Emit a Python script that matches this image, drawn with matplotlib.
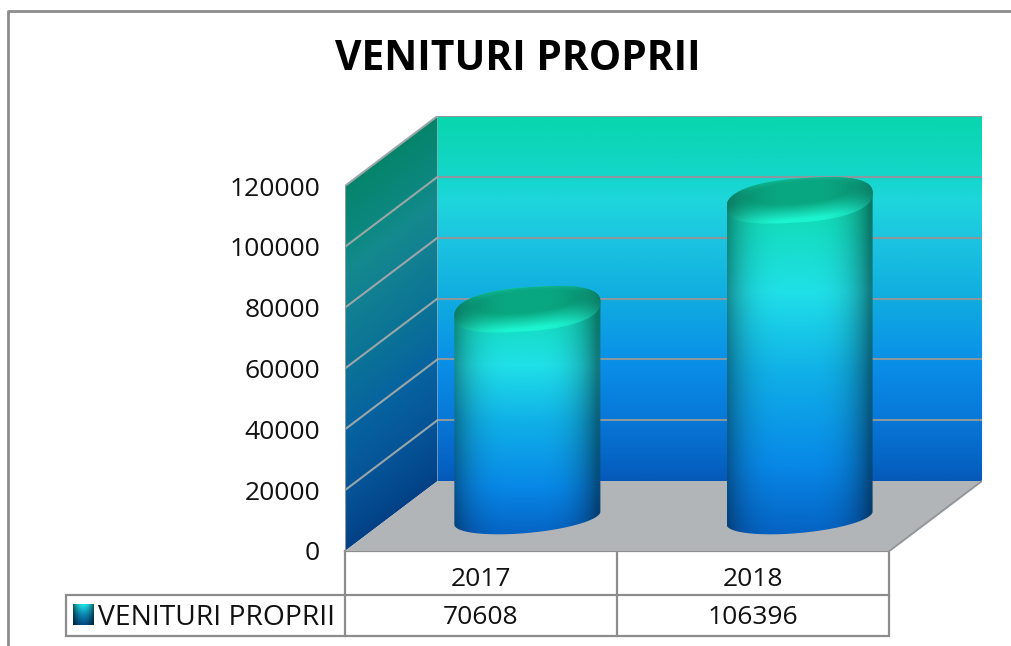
# -*- coding: utf-8 -*-
import numpy as np
import matplotlib
matplotlib.use("Agg")
import matplotlib.pyplot as plt
from matplotlib.path import Path
from matplotlib.colors import to_rgb

title = "VENITURI PROPRII"
series_name = "VENITURI PROPRII"
years = ["2017", "2018"]
values = [70608, 106396]
ticks = [0, 20000, 40000, 60000, 80000, 100000, 120000]

W, H = 1012, 646
FONT = "Open Sans"
EDGE = "#8c8c8c"

# size of one pixel in data units
UX = 1 / 272.0
UY = 120000 / 365.0
DEPTH_X = 92.5 * UX
DEPTH_Y = 70 * UY


def ramp(t, stops):
    pos = [s[0] for s in stops]
    cols = np.array([to_rgb(s[1]) for s in stops])
    return np.stack([np.interp(t, pos, cols[:, i]) for i in range(3)], axis=-1)


def spow(c, p=0.82):
    return np.sign(c) * np.abs(c) ** p


wall_stops = [(0, "#0558b8"), (0.03, "#0560c0"), (0.17, "#0878d8"), (0.33, "#0a90e8"),
              (0.5, "#10ace0"), (0.66, "#1cc4e0"), (0.77, "#1ed6dc"), (0.83, "#14d6cc"), (1, "#08d6ac")]
body_stops = [(0, "#10dcb0"), (0.1, "#10dcb4"), (0.33, "#20e0e8"), (0.55, "#10b0e8"),
              (0.8, "#0888e8"), (1, "#0560c0")]

fig = plt.figure(figsize=(W / 100, H / 100), dpi=100, facecolor="white")

# page layer in pixels: frame, title, table
bg = fig.add_axes([0, 0, 1, 1])
bg.set_xlim(0, W)
bg.set_ylim(H, 0)
bg.axis("off")
bg.plot([8.5, 8.5, W], [H, 10.5, 10.5], color=EDGE, lw=2)
bg.text(517.5, 59, title, family=FONT, weight="bold", fontsize=29.3, ha="center", va="center", color="black")

for xs, ys in [([345, 889, 889, 345, 345], [551, 551, 636, 636, 551]),
               ([345, 889], [595, 595]),
               ([617, 617], [551, 636]),
               ([345, 66, 66, 345], [595, 595, 636, 636])]:
    bg.plot(xs, ys, color=EDGE, lw=1.6, solid_joinstyle="miter")

bg.text(216.5, 618, series_name, family=FONT, fontsize=20.3, ha="center", va="center", color="#111111")
for i in range(len(years)):
    cx = 345 + 136 + 272 * i
    bg.text(cx, 579, years[i], family=FONT, fontsize=19, ha="center", va="center", color="#111111")
    bg.text(cx, 618, str(values[i]), family=FONT, fontsize=19, ha="center", va="center", color="#111111")

# legend key
ky, kx = np.mgrid[0:1:20j, 0:1:21j]
key = ramp(0.3 + 0.5 * ky, body_stops) * (0.45 + 0.55 * (1 - np.abs(2 * kx - 1) ** 2))[..., None] * (1 - 0.45 * ky)[..., None]
bg.imshow(key, extent=(73, 94, 625, 604), aspect="auto", zorder=2)
bg.set_xlim(0, W)
bg.set_ylim(H, 0)

# chart layer in data units
ax = fig.add_axes([345 / W, (H - 551) / H, (982 - 345) / W, 435 / H])
ax.patch.set_alpha(0)
for s in ax.spines.values():
    s.set_visible(False)
xlim = (0, 2 + DEPTH_X)
ylim = (0, 120000 + DEPTH_Y)


def paint(rgb, extent, verts, zorder):
    im = ax.imshow(rgb, extent=extent, origin="lower", aspect="auto", zorder=zorder, interpolation="bilinear")
    im.set_clip_path(Path(verts), ax.transData)


# back wall
gy = np.linspace(0, 1, 300)[:, None]
paint(ramp(gy[:, 0], wall_stops)[:, None, :],
      (DEPTH_X, 2 + DEPTH_X, DEPTH_Y, 120000 + DEPTH_Y),
      [(DEPTH_X, DEPTH_Y), (2 + DEPTH_X, DEPTH_Y), (2 + DEPTH_X, ylim[1]), (DEPTH_X, ylim[1])], 1)

# side wall
sy, sx = np.mgrid[0:ylim[1]:300j, 0:DEPTH_X:60j]
st = np.clip((sy - sx / DEPTH_X * DEPTH_Y) / 120000, 0, 1)
paint(ramp(st, wall_stops) * (0.72 - 0.1 * st)[..., None], (0, DEPTH_X, 0, ylim[1]),
      [(0, 0), (DEPTH_X, DEPTH_Y), (DEPTH_X, ylim[1]), (0, 120000)], 1)

# floor
ax.fill([0, 2, 2 + DEPTH_X, DEPTH_X], [0, 0, DEPTH_Y, DEPTH_Y], color="#b2b5b8", lw=0, zorder=1)
ax.plot([2, 2 + DEPTH_X], [0, DEPTH_Y], color="#8f9498", lw=1.3, zorder=2)

# grid
for v in ticks[1:]:
    ax.plot([DEPTH_X, 2 + DEPTH_X], [v + DEPTH_Y, v + DEPTH_Y], color="#8a979c", lw=1.5, zorder=2)
    ax.plot([0, DEPTH_X], [v, v + DEPTH_Y], color="#9aa6a8", lw=1.5, zorder=2)
ax.plot([0, 0], [0, 120000], color="#8a979c", lw=1.5, zorder=2)

# cylinders
rx = 73 * UX
tilt_top = 7 * UY
ry_top = 22 * UY
tilt_bot = 6.5 * UY
ry_bot = 15 * UY
base_y = (551 - 524) * UY
foot_y = (551 - 518) * UY

for i, v in enumerate(values):
    cx = i + 0.5 + 0.17
    top = base_y + v
    a1 = np.linspace(np.pi, 0, 80)
    a2 = np.linspace(0, -np.pi, 80)
    outline = list(zip(cx + rx * spow(np.cos(a1)), top + ry_top * spow(np.sin(a1)) + tilt_top * np.cos(a1))) + \
        list(zip(cx + rx * np.cos(a2), foot_y + ry_bot * np.sin(a2) + tilt_bot * np.cos(a2)))
    y0, y1 = foot_y - ry_bot - tilt_bot, top + ry_top + tilt_top
    by, bu = np.mgrid[0:1:300j, -1:1:150j]
    shade = 0.55 + 0.45 * (1 - np.abs(bu + 0.05) ** 3.5).clip(0, 1)
    paint(ramp(1 - by, body_stops) * shade[..., None], (cx - rx, cx + rx, y0, y1), outline, 3)

    # top cap
    a = np.linspace(0, 2 * np.pi, 160)
    cap = list(zip(cx + rx * spow(np.cos(a)), top + ry_top * spow(np.sin(a)) + tilt_top * np.cos(a)))
    cy0, cy1 = top - ry_top - tilt_top, top + ry_top + tilt_top
    yy, uu = np.mgrid[cy0:cy1:120j, -1:1:150j]
    vv = (yy - top - tilt_top * uu) / ry_top
    r = np.sqrt((uu / 0.9) ** 2 + ((vv - 0.35) / 0.7) ** 2)
    m = np.clip((r - 0.75) / 1.0, 0, 1)[..., None]
    rgb = np.array(to_rgb("#0aa882")) * (1 - m) + np.array(to_rgb("#1cf5d0")) * m
    rgb = rgb * (0.62 + 0.38 * (1 - np.abs(uu) ** 3))[..., None]
    paint(rgb, (cx - rx, cx + rx, cy0, cy1), cap, 4)

ax.set_xlim(*xlim)
ax.set_ylim(*ylim)
ax.set_xticks([])
ax.set_yticks(ticks)
ax.set_yticklabels([str(t) for t in ticks], family=FONT, fontsize=19, color="#111111")
ax.tick_params(axis="y", length=0, pad=18)

fig.savefig("out.png", dpi=100)
